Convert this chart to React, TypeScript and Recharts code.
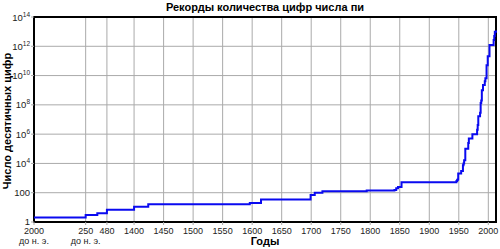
import { CartesianGrid, Line, LineChart, ReferenceArea, XAxis, YAxis } from "recharts";

// record years (negative = BC) and number of decimal digits known
const recordYears = [
  -2000, -250, 150, 480, 1400, 1424, 1596, 1615, 1699, 1706, 1719, 1794, 1841, 1844,
  1847, 1853, 1946, 1947, 1948, 1949, 1954, 1957, 1958, 1959, 1961, 1966, 1967, 1973,
  1981, 1982, 1983, 1986, 1987, 1988, 1989, 1991, 1994, 1995, 1997, 1999, 2002, 2009,
  2010, 2011, 2013,
];
const recordDigits = [
  2, 3, 4, 7, 11, 16, 20, 35, 71, 100, 127, 140, 152, 200,
  248, 527, 620, 710, 808, 2037, 3089, 7480, 10000, 16167, 100265, 250000, 500000, 1001250,
  2000036, 4194293, 16777206, 29360111, 134214700, 201326551, 1011196691, 2260000000,
  4044000000, 6442450000, 51539600000, 206158430000, 1241100000000, 2699999990000,
  5000000000000, 10000000000050, 12100000000050,
];

const tickYears = [-2000, -250, 480, 1400, 1450, 1500, 1550, 1600, 1650, 1700, 1750, 1800, 1850, 1900, 1950, 2000];
const tickLabels = ["2000", "250", "480", "1400", "1450", "1500", "1550", "1600", "1650", "1700", "1750", "1800", "1850", "1900", "1950", "2000"];
const bcLabel = "до н. э.";

const yTicks = [1, 100, 1e4, 1e6, 1e8, 1e10, 1e12, 1e14];

// the time axis is compressed before 1400: piecewise linear breaks
const axisBreakYears = [-2000, -250, 480, 1400, 2013];
const axisBreakUnits = [0, 1.75, 2.47, 3.39, 15.65];

const yearToUnit = (year: number) => {
  for (let i = 1; i < axisBreakYears.length; i++) {
    if (year <= axisBreakYears[i] || i === axisBreakYears.length - 1) {
      const y0 = axisBreakYears[i - 1];
      const y1 = axisBreakYears[i];
      const u0 = axisBreakUnits[i - 1];
      const u1 = axisBreakUnits[i];
      return u0 + ((year - y0) / (y1 - y0)) * (u1 - u0);
    }
  }
  return 0;
};

const data = recordYears.map((year, i) => ({ u: yearToUnit(year), digits: recordDigits[i] }));
const tickUnits = tickYears.map(yearToUnit);
const xMax = axisBreakUnits[axisBreakUnits.length - 1];

const font = "'Liberation Sans', Arial, sans-serif";

const XTick = ({ x, y, payload }: any) => {
  const i = tickUnits.indexOf(payload.value);
  return (
    <g>
      <text x={x} y={y + 7} textAnchor="middle" fontSize={9} fill="#222" fontFamily={font}>
        {tickLabels[i]}
      </text>
      {tickYears[i] < 0 && (
        <text x={x} y={y + 17} textAnchor="middle" fontSize={9} fill="#222" fontFamily={font}>
          {bcLabel}
        </text>
      )}
    </g>
  );
};

const YTick = ({ x, y, payload }: any) => {
  const v = payload.value;
  const exp = Math.round(Math.log10(v));
  if (exp < 4) {
    return (
      <text x={x} y={y} dy={3} textAnchor="end" fontSize={9.5} fill="#222" fontFamily={font}>
        {v}
      </text>
    );
  }
  return (
    <text x={x} y={y} dy={3.5} textAnchor="end" fontSize={9.5} fill="#222" fontFamily={font}>
      <tspan>10</tspan>
      <tspan dy={-4} fontSize={6.5}>
        {exp}
      </tspan>
    </text>
  );
};

export default function App() {
  return (
    <div style={{ position: "absolute", left: 0, top: 0, width: 500, height: 249 }}>
      <LineChart width={500} height={249} data={data} margin={{ top: 17, right: 4, bottom: 0, left: 0 }}>
        <CartesianGrid stroke="#aaaaaa" strokeWidth={1} />
        <XAxis
          type="number"
          dataKey="u"
          domain={[0, xMax]}
          ticks={tickUnits}
          interval={0}
          height={27}
          tick={<XTick />}
          tickSize={3}
          tickMargin={2}
          tickLine={{ stroke: "#aaaaaa" }}
          axisLine={false}
        />
        <YAxis
          type="number"
          scale="log"
          domain={[1, 1e14]}
          allowDataOverflow
          ticks={yTicks}
          interval={0}
          width={34}
          tick={<YTick />}
          tickSize={3}
          tickMargin={1}
          tickLine={{ stroke: "#aaaaaa" }}
          axisLine={false}
        />
        <Line
          type="stepAfter"
          dataKey="digits"
          stroke="#0a0af0"
          strokeWidth={2}
          dot={false}
          isAnimationActive={false}
        />
        <ReferenceArea x1={0} x2={xMax} y1={1} y2={1e14} fill="none" stroke="#000" strokeWidth={2} />
      </LineChart>
      <svg width={500} height={249} style={{ position: "absolute", left: 0, top: 0, pointerEvents: "none" }}>
        <text x={265} y={10.5} textAnchor="middle" fontSize={11} fontWeight="bold" fill="#000" fontFamily={font}>
          Рекорды количества цифр числа пи
        </text>
        <text x={265} y={245} textAnchor="middle" fontSize={11} fontWeight="bold" fill="#000" fontFamily={font}>
          Годы
        </text>
        <text
          transform="translate(10.5,121) rotate(-90)"
          textAnchor="middle"
          fontSize={11}
          fontWeight="bold"
          fill="#000"
          fontFamily={font}
        >
          Число десятичных цифр
        </text>
      </svg>
    </div>
  );
}
